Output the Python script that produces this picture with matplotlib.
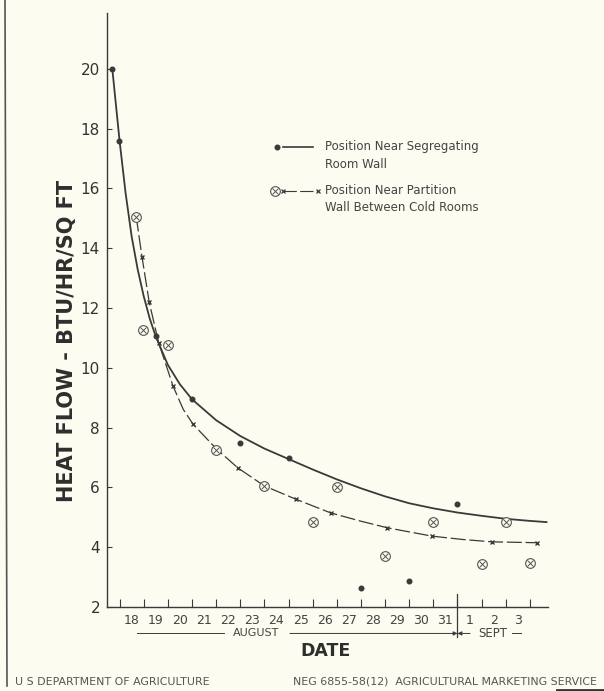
import numpy as np
import matplotlib
matplotlib.use('Agg')
import matplotlib.pyplot as plt
import matplotlib.transforms as mtransforms
from matplotlib.lines import Line2D

# Heat flow (BTU/hr/sq ft); x is days counted from the start of Aug 18
dot_days = [-0.3, -0.02, 1.5, 3.0, 5.0, 7.0, 10.0, 12.0, 14.0]
dot_flow = [20.0, 17.6, 11.05, 8.95, 7.5, 7.0, 2.62, 2.87, 5.43]

circ_days = [0.69, 0.98, 2.0, 4.0, 6.0, 8.0, 9.0, 11.0, 13.0, 15.0, 16.0, 17.0]
circ_flow = [15.06, 11.28, 10.78, 7.25, 6.05, 4.83, 6.0, 3.7, 4.86, 3.45, 4.84, 3.47]

# smoothed curve, segregating room wall
wall_days = [-0.3, 0.0, 0.25, 0.5, 0.75, 1.0, 1.25, 1.5, 2.0, 2.5, 3.0, 4.0, 5.0,
             6.0, 7.0, 8.0, 9.0, 10.0, 11.0, 12.0, 13.0, 14.0, 15.0, 16.0, 17.0, 17.7]
wall_flow = [20.0, 17.6, 15.85, 14.4, 13.3, 12.4, 11.65, 11.05, 10.1, 9.45, 8.95, 8.25, 7.72,
             7.3, 6.95, 6.6, 6.27, 5.97, 5.7, 5.47, 5.3, 5.16, 5.05, 4.95, 4.88, 4.84]

# smoothed curve, partition wall (x = points marked on the curve)
part_days = [0.69, 0.93, 1.23, 1.62, 2.22, 2.64, 3.05, 4.0, 4.89, 6.0, 7.32, 8.74,
             10.0, 11.09, 12.95, 14.2, 15.41, 17.3]
part_flow = [15.06, 13.71, 12.19, 10.84, 9.38, 8.61, 8.11, 7.3, 6.66, 6.05, 5.60, 5.15,
             4.87, 4.65, 4.37, 4.26, 4.18, 4.15]
mark_days = [0.93, 1.23, 1.62, 2.22, 3.05, 4.89, 7.32, 8.74, 11.09, 12.95, 15.41, 17.3]
mark_flow = [13.71, 12.19, 10.84, 9.38, 8.11, 6.66, 5.60, 5.15, 4.65, 4.37, 4.18, 4.15]

day_labels = ['18', '19', '20', '21', '22', '23', '24', '25', '26', '27', '28',
              '29', '30', '31', '1', '2', '3']
flow_ticks = [2, 4, 6, 8, 10, 12, 14, 16, 18, 20]

paper = '#fcfcf0'
ink = '#3a3a3a'
grey = '#555555'

W, H = 604, 691
fig = plt.figure(figsize=(W / 100, H / 100), dpi=100, facecolor=paper)


def fx(px):
    return px / W


def fy(py):
    return 1 - py / H


ax = fig.add_axes([fx(107), fy(607), fx(548) - fx(107), fy(12.7) - fy(607)])
ax.set_facecolor(paper)
ax.set_xlim(-0.52, 17.75)
ax.set_ylim(2, 21.88)
for s in ['top', 'right']:
    ax.spines[s].set_visible(False)
for s in ['left', 'bottom']:
    ax.spines[s].set_color(ink)
    ax.spines[s].set_linewidth(1.0)

ax.set_yticks(flow_ticks)
ax.tick_params(axis='y', direction='in', length=3.5, width=0.8, color=ink,
               labelsize=11, labelcolor='#333333', pad=5)

# day boundaries as ticks, day numbers centred between them
ax.set_xticks(np.arange(len(day_labels) + 1))
ax.set_xticks(np.arange(len(day_labels)) + 0.5, minor=True)
ax.set_xticklabels(day_labels, minor=True)
ax.tick_params(axis='x', which='major', direction='in', length=6, width=0.8,
               color=ink, labelbottom=False)
ax.tick_params(axis='x', which='minor', length=0, labelsize=9,
               labelcolor='#444444', pad=5)

# curves and readings
ax.plot(wall_days, wall_flow, color=ink, lw=1.3, solid_capstyle='round', zorder=2)
ax.plot(part_days, part_flow, color=ink, lw=0.9, linestyle=(0, (12, 3)), zorder=2)
ax.plot(mark_days, mark_flow, 'x', color=ink, ms=3.5, mew=1.0, zorder=3)
ax.plot(dot_days, dot_flow, 'o', color=ink, ms=3.3, zorder=4, clip_on=False)
ax.plot(circ_days, circ_flow, 'o', mfc=paper, mec=grey, ms=7, mew=0.8, zorder=4)
ax.plot(circ_days, circ_flow, 'x', color=grey, ms=4, mew=0.7, zorder=5)

# month bar under the day numbers
trans = mtransforms.blended_transform_factory(ax.transData, ax.transAxes)
sept_start = day_labels.index('1')
ax.plot([sept_start, sept_start], [0.022, -0.05], color=ink, lw=0.9,
        transform=trans, clip_on=False)
row = -0.0445
ax.plot([0.72, 4.33], [row, row], color=ink, lw=0.7, transform=trans, clip_on=False)
ax.text(5.67, row, 'AUGUST', transform=trans, ha='center', va='center',
        fontsize=8, color='#444444')
ax.annotate('', xy=(sept_start, row), xytext=(7.06, row), xycoords=trans,
            textcoords=trans, annotation_clip=False,
            arrowprops=dict(arrowstyle='-|>', lw=0.7, color=ink,
                            mutation_scale=6, shrinkA=0, shrinkB=0))
ax.annotate('', xy=(sept_start, row), xytext=(14.52, row), xycoords=trans,
            textcoords=trans, annotation_clip=False,
            arrowprops=dict(arrowstyle='-|>', lw=0.7, color=ink,
                            mutation_scale=6, shrinkA=0, shrinkB=0))
ax.text(15.45, row, 'SEPT', transform=trans, ha='center', va='center',
        fontsize=8.5, color='#444444')
ax.plot([16.26, 16.63], [row, row], color=ink, lw=0.7, transform=trans, clip_on=False)

fig.text(fx(325), fy(651), 'DATE', ha='center', va='center', fontsize=12.5,
         fontweight='bold', color='#2e2e2e')
fig.text(fx(67), fy(341), 'HEAT FLOW - BTU/HR/SQ FT', rotation=90, ha='center',
         va='center', fontsize=15, fontweight='bold', color='#2e2e2e')

# key
fig.add_artist(Line2D([fx(276.7)], [fy(146.7)], marker='o', ms=3.3, color=ink, ls='none'))
fig.add_artist(Line2D([fx(283), fx(313)], [fy(146.7)] * 2, color=ink, lw=1.2))
fig.add_artist(Line2D([fx(283), fx(318)], [fy(191)] * 2, color=ink, lw=0.8,
                      linestyle=(0, (12, 3))))
fig.add_artist(Line2D([fx(283), fx(318)], [fy(191)] * 2, marker='x', ms=3, mew=0.9,
                      color=ink, ls='none'))
fig.add_artist(Line2D([fx(275)], [fy(191)], marker='o', mfc=paper, mec=grey, ms=7,
                      mew=0.8, ls='none'))
fig.add_artist(Line2D([fx(275)], [fy(191)], marker='x', color=grey, ms=4, mew=0.7,
                      ls='none'))
key_style = dict(ha='left', va='center', fontsize=8.5, color='#444444')
fig.text(fx(325), fy(146.7), 'Position Near Segregating', **key_style)
fig.text(fx(325), fy(164), 'Room Wall', **key_style)
fig.text(fx(325), fy(190), 'Position Near Partition', **key_style)
fig.text(fx(325), fy(207), 'Wall Between Cold Rooms', **key_style)

# sheet edges and credit line
fig.add_artist(Line2D([fx(5), fx(7)], [fy(0), fy(686)], color=grey, lw=1.2))
fig.add_artist(Line2D([fx(557), fx(604)], [fy(690), fy(690)], color='#333333', lw=2))
fig.text(fx(15), fy(682), 'U S DEPARTMENT OF AGRICULTURE', ha='left', va='center',
         fontsize=7.9, color='#555555')
fig.text(fx(597), fy(682), 'NEG 6855-58(12)  AGRICULTURAL MARKETING SERVICE',
         ha='right', va='center', fontsize=7.9, color='#555555')

fig.savefig('out.png', dpi=100, facecolor=paper)
